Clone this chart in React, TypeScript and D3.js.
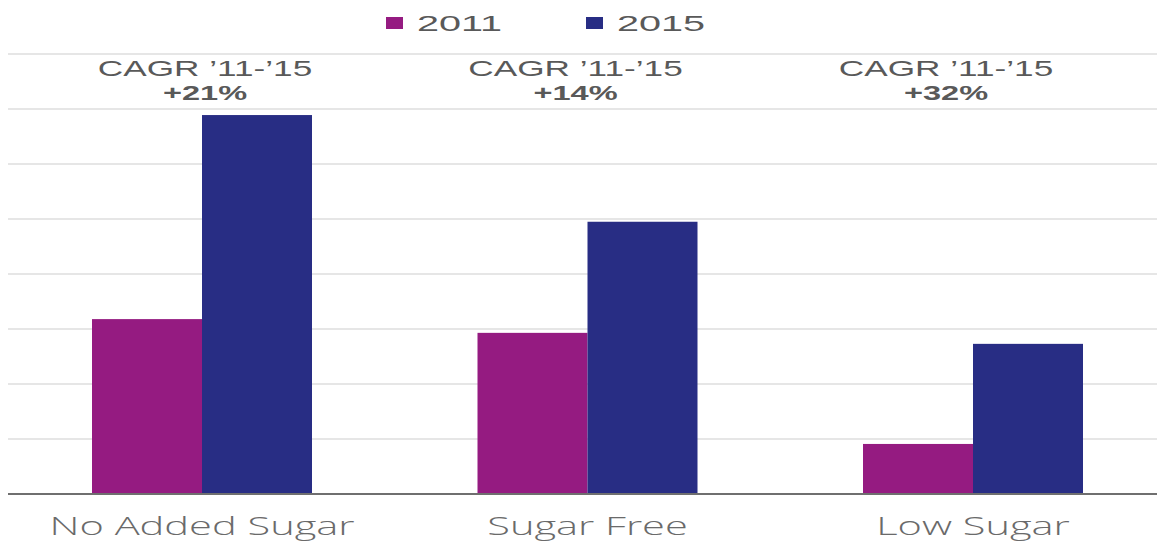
import React from "react";
import * as d3 from "d3";

const categories = ["No Added Sugar", "Sugar Free", "Low Sugar"];
const seriesNames = ["2011", "2015"];
const values2011 = [3.18, 2.93, 0.91];
const values2015 = [6.89, 4.95, 2.73];
const cagrLabels = ["+21%", "+14%", "+32%"];
const cagrTitle = "CAGR \u201911-\u201915";
const gridTicks = [0, 1, 2, 3, 4, 5, 6, 7, 8];

const W = 1157;
const H = 541;
const colors: Record<string, string> = { "2011": "#951B81", "2015": "#282D84" };

export default function App() {
  const y = d3.scaleLinear().domain([0, 8]).range([494, 54]);
  const x0 = d3.scaleBand<string>().domain(categories).range([9.25, 1165.75]).padding(0);
  const groupPad = (x0.bandwidth() - 220) / 2;
  const x1 = d3
    .scaleBand<string>()
    .domain(seriesNames)
    .range([groupPad, x0.bandwidth() - groupPad])
    .padding(0);
  const ann = d3.scalePoint<string>().domain(categories).range([205, 946]);
  const seriesValues: Record<string, number[]> = { "2011": values2011, "2015": values2015 };
  const legendX: Record<string, number> = { "2011": 386, "2015": 586 };

  return (
    <svg
      width={W}
      height={H}
      style={{ position: "absolute", left: 0, top: 0, background: "#fff" }}
    >
      {gridTicks.slice(1).map((t) => (
        <line key={t} x1={8} x2={W} y1={y(t)} y2={y(t)} stroke="#dedede" strokeWidth={1.5} />
      ))}
      {categories.map((c, i) => (
        <g key={c} transform={`translate(${x0(c)},0)`}>
          {seriesNames.map((s) => (
            <rect
              key={s}
              x={x1(s)}
              width={x1.bandwidth()}
              y={y(seriesValues[s][i])}
              height={y(0) - y(seriesValues[s][i])}
              fill={colors[s]}
            />
          ))}
        </g>
      ))}
      <line x1={8} x2={W} y1={y(0)} y2={y(0)} stroke="#6f6f6f" strokeWidth={2} />
      {categories.map((c) => (
        <text
          key={c}
          transform={`translate(${(x0(c) as number) + x0.bandwidth() / 2},535) scale(1.6,1)`}
          textAnchor="middle"
          fontFamily="'Open Sans', sans-serif"
          fontWeight={300}
          fontSize={26}
          fill="#6a6a6a"
        >
          {c}
        </text>
      ))}
      {categories.map((c, i) => (
        <g key={c} transform={`translate(${ann(c)},0)`}>
          <text
            transform={`translate(0,76) scale(1.6,1)`}
            textAnchor="middle"
            fontFamily="'Liberation Sans', Arial, sans-serif"
            fontSize={22}
            fill="#595959"
          >
            {cagrTitle}
          </text>
          <text
            transform={`translate(0,100) scale(1.55,1)`}
            textAnchor="middle"
            fontFamily="'Liberation Sans', Arial, sans-serif"
            fontWeight="bold"
            fontSize={21}
            fill="#595959"
          >
            {cagrLabels[i]}
          </text>
        </g>
      ))}
      {seriesNames.map((s) => (
        <g key={s} transform={`translate(${legendX[s]},0)`}>
          <rect x={0} y={17} width={17} height={12} fill={colors[s]} />
          <text
            transform={`translate(31,31) scale(1.8,1)`}
            fontFamily="'Liberation Sans', Arial, sans-serif"
            fontSize={22}
            fill="#595959"
          >
            {s}
          </text>
        </g>
      ))}
    </svg>
  );
}
